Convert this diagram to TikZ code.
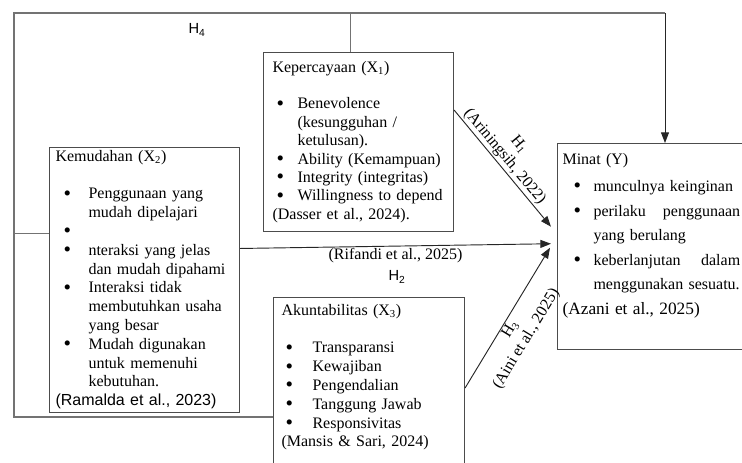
\documentclass[tikz,border=0pt]{standalone}
\usepackage{fontspec}
\setmainfont{Liberation Serif}
\setsansfont{Liberation Sans}
\usepackage{tikz}
\usetikzlibrary{arrows.meta,positioning}
\newcommand{\bl}{\raisebox{-1pt}{\fontsize{16}{14}\selectfont\textbullet}}

\begin{document}
\begin{tikzpicture}[
  x=0.75pt,y=-0.75pt,
  box/.style={draw=black!70,line width=0.8pt,anchor=north west,align=left},
  frame/.style={draw=black!55,line width=0.8pt},
  arr/.style={draw=black!85,line width=0.7pt,-{Triangle[length=8pt,width=6pt]}},
  lbl/.style={font=\fontsize{12}{14}\selectfont,inner sep=1pt,align=center},
  hlbl/.style={font=\fontsize{11}{13}\sffamily}
]
\useasboundingbox (0,0) rectangle (742,462);

% kotak variabel
\node[box,inner xsep=6.75pt,inner ysep=5pt,text width=129pt,font=\fontsize{12}{13.8}\selectfont] (x1) at (263,52) {%
\begin{tabular}{@{\hspace{3pt}}p{15.75pt}@{}l@{}}
\multicolumn{2}{@{}l@{}}{Kepercayaan (X\textsubscript{1})}\\
\\
\bl & Benevolence\\
 & (kesungguhan /\\
 & ketulusan).\\
\bl & Ability (Kemampuan)\\
\bl & Integrity (integritas)\\
\bl & Willingness to depend\\
\multicolumn{2}{@{}l@{}}{(Dasser et al., 2024).}
\end{tabular}};

\node[box,inner xsep=4.5pt,inner ysep=0.5pt,text width=133.5pt,font=\fontsize{12}{14.1}\selectfont] (x2) at (49,147) {%
\begin{tabular}{@{\hspace{6pt}}p{18.75pt}@{}l@{}}
\multicolumn{2}{@{}l@{}}{Kemudahan (X\textsubscript{2})}\\
\\
\bl & Penggunaan yang\\
 & mudah dipelajari\\
\bl & \\
\bl & nteraksi yang jelas\\
 & dan mudah dipahami\\
\bl & Interaksi tidak\\
 & membutuhkan usaha\\
 & yang besar\\
\bl & Mudah digunakan\\
 & untuk memenuhi\\
 & kebutuhan.\\
\multicolumn{2}{@{}l@{}}{\sffamily(Ramalda et al., 2023)}
\end{tabular}};

\node[box,inner xsep=6pt,inner ysep=3.5pt,text width=131.25pt,font=\fontsize{12}{14.1}\selectfont] (x3) at (273,297) {%
\begin{tabular}{@{\hspace{3pt}}p{20.25pt}@{}l@{}}
\multicolumn{2}{@{}l@{}}{Akuntabilitas (X\textsubscript{3})}\\
\\
\bl & Transparansi\\
\bl & Kewajiban\\
\bl & Pengendalian\\
\bl & Tanggung Jawab\\
\bl & Responsivitas\\
\multicolumn{2}{@{}l@{}}{(Mansis \& Sari, 2024)}\\
\mbox{}
\end{tabular}};

\node[box,inner xsep=3.75pt,inner ysep=2.8pt,text width=133.25pt,font=\fontsize{12}{18.4}\selectfont] (y) at (557,143) {%
\begin{tabular}{@{\hspace{8.25pt}}p{15pt}@{}p{110pt}@{}}
\multicolumn{2}{@{}l@{}}{Minat (Y)}\\[2pt]
\bl & munculnya keinginan\\
\bl & perilaku\hfill penggunaan\\
 & yang berulang\\
\bl & keberlanjutan\hfill dalam\\
 & menggunakan sesuatu.\\
\multicolumn{2}{@{}l@{}}{\fontsize{13}{18.4}\selectfont(Azani et al., 2025)}\\
\mbox{}
\end{tabular}};

% hubungan
\coordinate (tl) at (14,13);
\coordinate (tr) at (665,13);
\coordinate (t1) at ([shift={(-6,-20)}]y.west);
\coordinate (t2) at ([shift={(-6,-3)}]y.west);
\coordinate (t3) at ([shift={(-7,1)}]y.west);

\draw[frame] ([yshift=-90pt]x3.north west) -- ([yshift=-90pt]x3.north west -| tl) -- (tl) -- (tr);
\draw[frame] ([yshift=34.5pt]x2.west) -- ([yshift=34.5pt]x2.west -| tl);
\draw[frame] ([xshift=-6pt]x1.north) -- ([xshift=-6pt]x1.north |- tl);
\draw[arr] (tr) -- (tr |- y.north);
\node[hlbl] (h4) at (197,30) {H\textsubscript{4}};

\draw[arr] ([yshift=-43.5pt]x1.north east) -- node[lbl,sloped,above,pos=0.45] (l1) {H\textsubscript{1}\\(Ariningsih, 2022)} (t1);
\draw[arr] ([yshift=23.5pt]x2.east) -- node[lbl,below,pos=0.5] (l2) {(Rifandi et al., 2025)} (t2);
\node[hlbl] (h2) at (397,277) {H\textsubscript{2}};
\draw[arr] ([yshift=-68.25pt]x3.north east) -- node[lbl,sloped,below,pos=0.45] (l3) {H\textsubscript{3}\\(Aini et al., 2025)} (t3);
\end{tikzpicture}
\end{document}
